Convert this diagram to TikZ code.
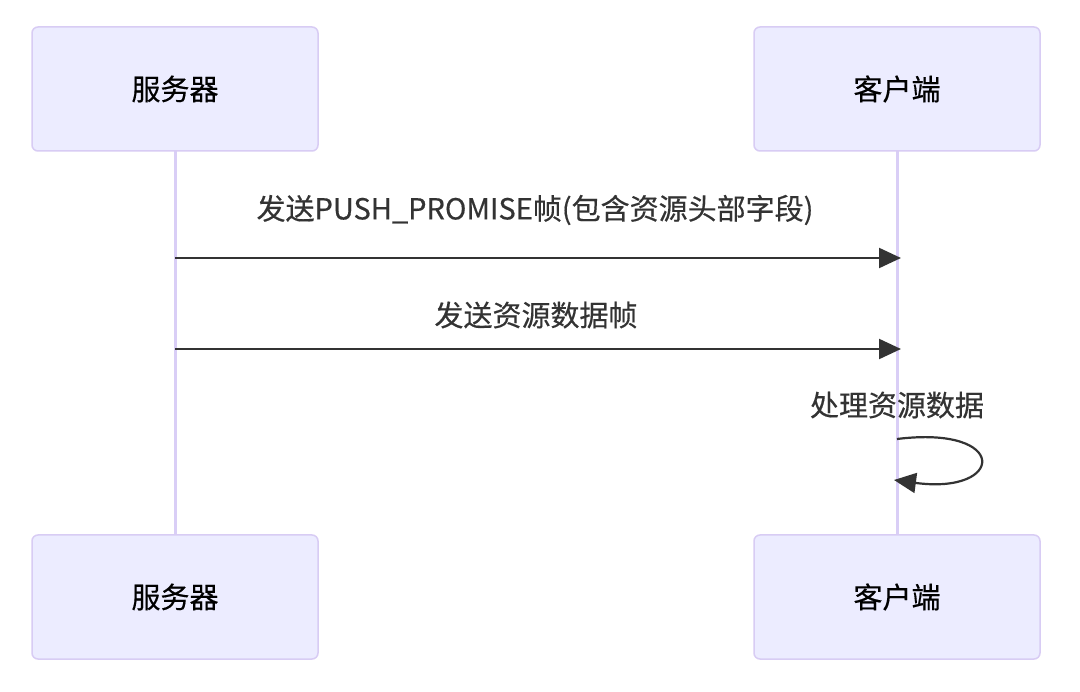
\documentclass[tikz,border=0pt]{standalone}
\usepackage{fontspec}
\setmainfont{Noto Sans CJK SC}[FakeBold=0.4]
\usetikzlibrary{arrows.meta}
\definecolor{boxfill}{HTML}{ECECFF}
\definecolor{boxline}{HTML}{D8CCF4}
\definecolor{lifeline}{HTML}{D9CEF6}
\definecolor{msg}{HTML}{333333}
\tikzset{
  actor/.style={draw=boxline, fill=boxfill, line width=1.5pt, rounded corners=6pt,
    minimum width=286pt, minimum height=124pt, inner sep=0pt,
    font=\fontsize{29pt}{33pt}\selectfont, text=black},
  life/.style={draw=lifeline, line width=3pt},
  msgline/.style={draw=msg, line width=2.2pt, -{Triangle[length=22pt,width=20pt]}},
  msglabel/.style={font=\fontsize{29pt}{33pt}\selectfont, text=msg, inner sep=0pt},
}
\begin{document}
\begin{tikzpicture}[x=1pt,y=-1pt]
\useasboundingbox (0,0) rectangle (1080,692);
\fill[white] (0,0) rectangle (1080,692);
% lifelines
\coordinate (sTop) at (175,151);
\coordinate (sBot) at (175,535);
\coordinate (cTop) at (897,151);
\coordinate (cBot) at (897,535);
\draw[life] (sTop) -- (sBot);
\draw[life] (cTop) -- (cBot);
% actors
\node[actor] (s1) at (175,89) {服务器};
\node[actor] (c1) at (897,89) {客户端};
\node[actor] (s2) at (175,597) {服务器};
\node[actor] (c2) at (897,597) {客户端};
% messages
\coordinate (m1a) at (175,258);
\coordinate (m1b) at (901,258);
\coordinate (m2a) at (175,349);
\coordinate (m2b) at (901,349);
\draw[msgline] (m1a) -- (m1b);
\draw[msgline] (m2a) -- (m2b);
\node[msglabel] (l1) at (535,210) {发送PUSH\_PROMISE帧(包含资源头部字段)};
\node[msglabel] (l2) at (536,315) {发送资源数据帧};
% self message
\coordinate (selfA) at (897,439);
\coordinate (selfB) at (894,480);
\draw[msgline] (selfA) .. controls (1010,425) and (1005,495) .. (selfB);
\node[msglabel] (l3) at (897,405) {处理资源数据};
\end{tikzpicture}
\end{document}
